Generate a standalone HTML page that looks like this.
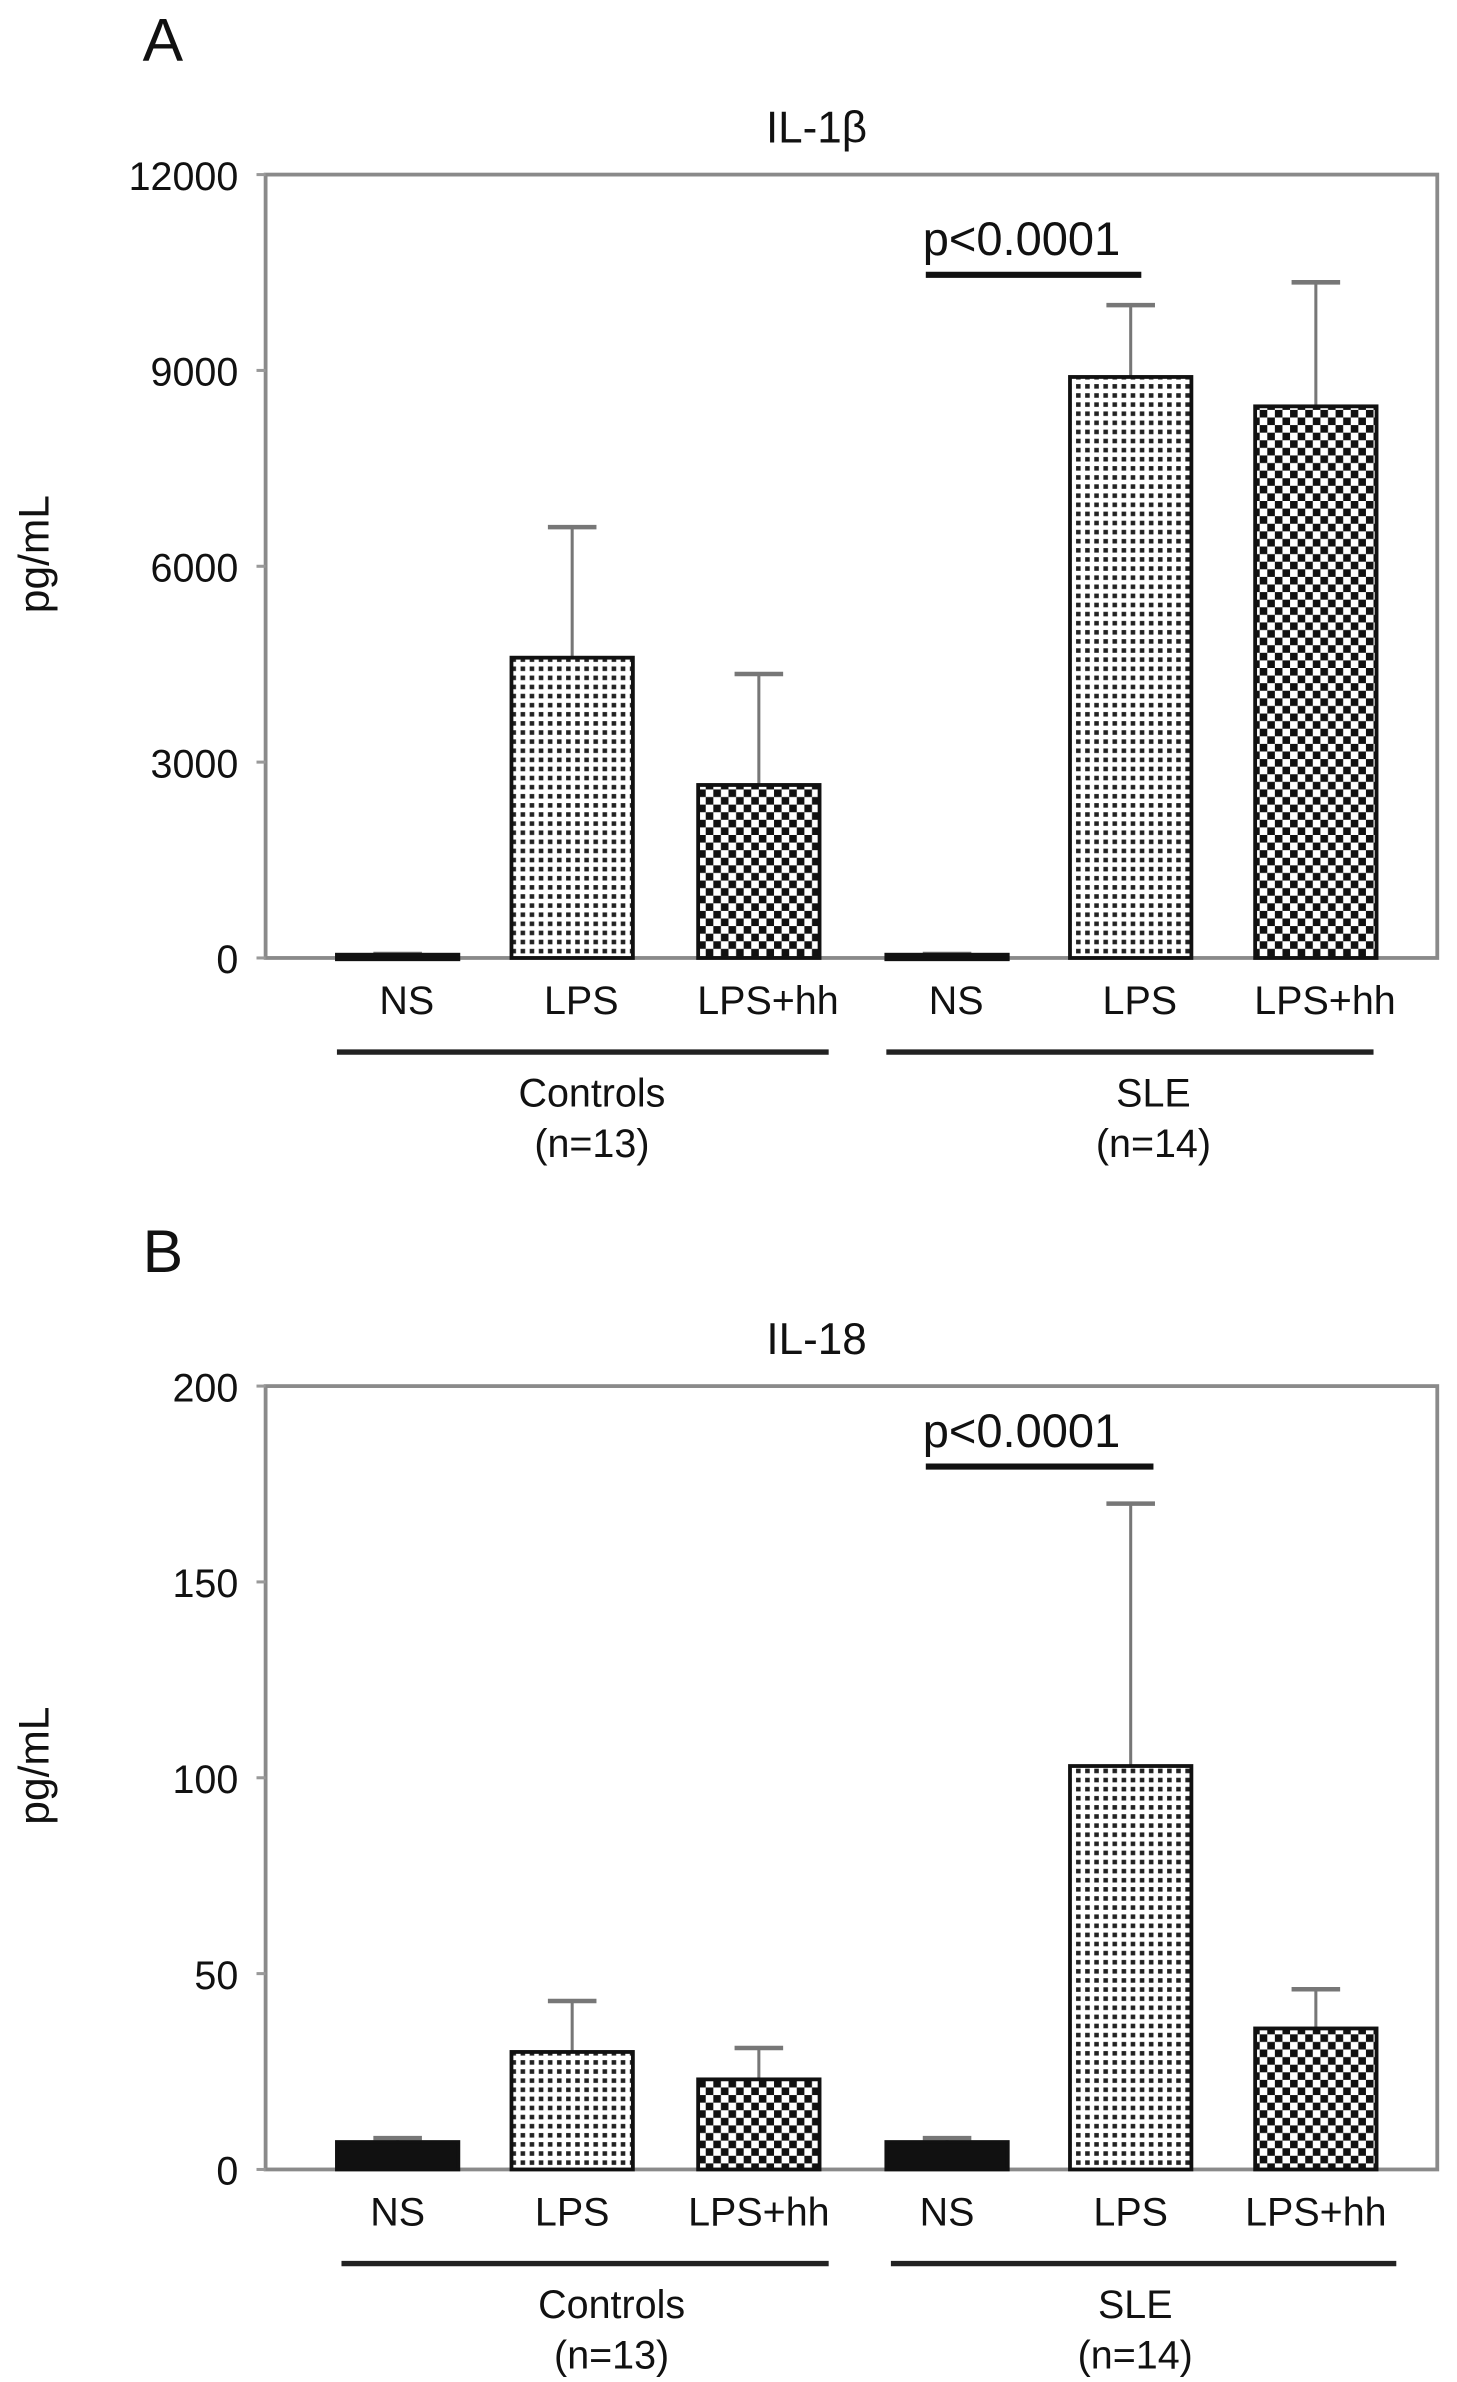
<!DOCTYPE html>
<html><head><meta charset="utf-8"><style>
html,body{margin:0;padding:0;background:#fff;}
svg{display:block;}
text{font-family:"Liberation Sans Narrow","Liberation Sans",sans-serif;fill:#111;}
.w{font-family:"Liberation Sans",sans-serif;}
</style></head><body>
<svg id="fig" width="1457" height="2382" viewBox="0 0 960 1569" preserveAspectRatio="none" xmlns="http://www.w3.org/2000/svg">
<defs>
<pattern id="dots" width="6" height="6" patternUnits="userSpaceOnUse"><rect width="6" height="6" fill="#fff"/><rect x="1" y="1" width="3" height="3" fill="#222"/></pattern>
<pattern id="check" width="10" height="10" patternUnits="userSpaceOnUse"><rect width="10" height="10" fill="#fff"/><rect width="5" height="5" fill="#111"/><rect x="5" y="5" width="5" height="5" fill="#111"/></pattern>
</defs>
<g id="panels"></g>
</svg>
<script>
const categories = ["NS","LPS","LPS+hh","NS","LPS","LPS+hh"];
const groups = ["Controls","SLE"];
const groupN = ["(n=13)","(n=14)"];
const il1bValues = [50, 4600, 2650, 50, 8900, 8450];
const il1bErrors = [60, 6600, 4350, 60, 10000, 10350];
const il1bTicks = [0, 3000, 6000, 9000, 12000];
const il18Values = [7, 30, 23, 7, 103, 36];
const il18Errors = [8, 43, 31, 8, 170, 46];
const il18Ticks = [0, 50, 100, 150, 200];
const fills = ["#111","url(#dots)","url(#check)","#111","url(#dots)","url(#check)"];
const NS = "http://www.w3.org/2000/svg";
const root = document.getElementById('panels');
function mk(tag, attrs, parent, txt){const e=document.createElementNS(NS,tag);for(const k in attrs)e.setAttribute(k,attrs[k]);if(txt!==undefined)e.textContent=txt;(parent||root).appendChild(e);return e;}

function panel(cfg){
  const g = mk('g',{});
  
  
  const L=175,R=947,T=cfg.top,B=cfg.top+516;
  const max=cfg.ticks[cfg.ticks.length-1];
  const y=v=>B-(v/max)*(B-T);
  const bx=i=>[222,337,460,584,705,827][i];
  const bw=80;
  let t=mk('text',{x:94,y:cfg.top-75,'font-size':40,class:'w'},g,cfg.letter);
  
  t=mk('text',{x:538,y:cfg.top-21,'font-size':29,'text-anchor':'middle'},g,cfg.title);
  
  t=mk('text',{x:0,y:0,'font-size':28,'text-anchor':'middle',class:'w',transform:`translate(32,${(T+B)/2-8}) rotate(-90)`},g,'pg/mL');
  
  let fr=mk('rect',{x:L,y:T,width:R-L,height:B-T,fill:'none',stroke:'#8a8a8a','stroke-width':2.5},g);
  
  cfg.ticks.forEach(v=>{
    const tl=mk('line',{x1:L-6,x2:L,y1:y(v),y2:y(v),stroke:'#999','stroke-width':2},g);
    
    const tt=mk('text',{x:L-18,y:y(v)+10,'font-size':26,'text-anchor':'end'},g,String(v));
    
  });
  cfg.values.forEach((v,i)=>{
    const x=bx(i),cx=x+bw/2,ey=y(cfg.errors[i]);
    const el=mk('line',{x1:cx,x2:cx,y1:ey,y2:y(v),stroke:'#777','stroke-width':2},g);
    
    const ec=mk('line',{x1:cx-16,x2:cx+16,y1:ey,y2:ey,stroke:'#777','stroke-width':3},g);
    
    const r=mk('rect',{x:x,y:y(v),width:bw,height:Math.max(B-y(v),3),fill:fills[i],stroke:'#111','stroke-width':2.5},g);
    
    
    const cl=mk('text',{x:cx+(cfg.lx||0),y:B+37,'font-size':26,'text-anchor':'middle'},g,categories[i]);
    
  });
  [[cfg.g1,390],[cfg.g2,760]].forEach((gr,k)=>{
    const gl=mk('line',{x1:gr[0][0],x2:gr[0][1],y1:B+62,y2:B+62,stroke:'#222','stroke-width':3.5},g);
    
    const c=(k===0?cfg.c1:cfg.c2);
    const gt=mk('text',{x:c,y:B+98,'font-size':26,'text-anchor':'middle'},g,groups[k]);
    
    const gn=mk('text',{x:c,y:B+131,'font-size':26,'text-anchor':'middle'},g,groupN[k]);
    
  });
  const pl=mk('line',{x1:610,x2:cfg.pEnd,y1:T+cfg.pOff,y2:T+cfg.pOff,stroke:'#111','stroke-width':4},g);
  
  const pt=mk('text',{x:608,y:T+cfg.pOff-13,'font-size':31},g,'p<0.0001');
  
}
panel({id:'il1b',letter:'A',title:'IL-1β',top:115,values:il1bValues,errors:il1bErrors,ticks:il1bTicks,g1:[222,546],g2:[584,905],c1:390,c2:760,pEnd:752,pOff:66,lx:6});
panel({id:'il18',letter:'B',title:'IL-18',top:913,values:il18Values,errors:il18Errors,ticks:il18Ticks,g1:[225,546],g2:[587,920],c1:403,c2:748,pEnd:760,pOff:53,lx:0});
</script>
</body></html>
